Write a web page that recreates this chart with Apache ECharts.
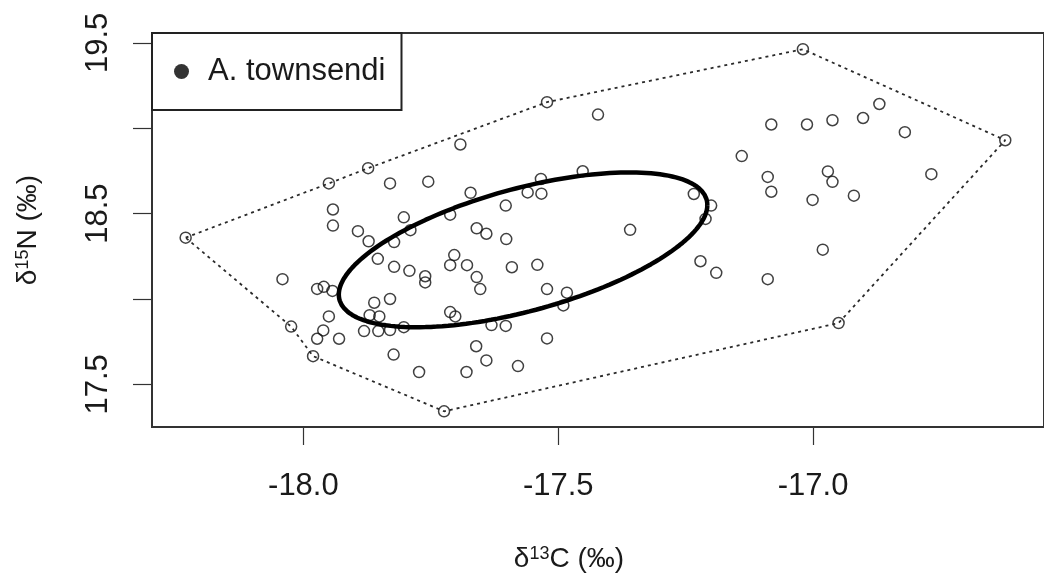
<!DOCTYPE html>
<html>
<head>
<meta charset="utf-8">
<script src="https://cdn.jsdelivr.net/npm/echarts@6/dist/echarts.min.js"></script>
<style>
html,body{margin:0;padding:0;background:#fff;}
#chart{width:1044px;height:578px;}
</style>
</head>
<body>
<div id="chart"></div>
<script>
// ---- data ----
const seriesName = 'A. townsendi';
const d13C = [
-18.231,-17.950,-17.873,-17.830,-17.755,-17.942,-17.942,-17.893,-17.872,-17.803,
-17.790,-17.822,-17.854,-17.822,-17.792,-17.761,-17.761,-17.712,-17.704,-17.712,
-18.041,-17.973,-17.960,-17.943,-17.861,-17.830,-17.870,-17.851,-17.950,-17.961,
-17.973,-17.930,-18.024,-17.981,-17.881,-17.853,-17.830,-17.803,-17.823,-17.773,
-17.724,-17.712,-17.522,-17.422,-17.692,-17.672,-17.603,-17.560,-17.534,-17.533,
-17.452,-17.660,-17.641,-17.602,-17.359,-17.234,-17.200,-17.211,-17.679,-17.660,
-17.653,-17.591,-17.541,-17.522,-17.483,-17.490,-17.702,-17.631,-17.603,-17.522,
-17.661,-17.641,-17.680,-17.579,-17.221,-17.190,-17.020,-16.870,-16.902,-16.962,
-17.012,-17.082,-16.820,-16.623,-17.140,-17.089,-17.082,-16.971,-16.962,-17.001,
-16.920,-16.768,-16.981,-17.089,-16.950
];
const d15N = [
18.359,18.677,18.766,18.677,18.687,18.524,18.430,18.397,18.338,18.478,
18.403,18.333,18.235,18.188,18.165,18.133,18.097,18.494,18.257,18.198,
18.116,18.059,18.071,18.047,17.978,18.000,17.905,17.898,17.898,17.816,
17.767,17.767,17.838,17.665,17.812,17.812,17.818,17.835,17.674,17.572,
17.342,17.923,19.153,19.080,18.905,18.622,18.547,18.624,18.703,18.617,
18.748,18.414,18.382,18.351,18.405,18.615,18.547,18.469,18.198,18.128,
18.058,18.186,18.200,18.058,18.037,17.962,17.898,17.847,17.842,17.769,
17.723,17.640,17.572,17.607,18.221,18.153,19.463,19.142,19.060,19.047,
19.022,19.022,18.977,18.930,18.837,18.715,18.628,18.747,18.686,18.580,
18.605,18.731,18.289,18.116,17.859
];
// convex hull vertices (indices into the arrays above), in drawing order
const hullOrder = [0,1,2,42,76,83,94,40,33,32,0];
// standard ellipse: centre, half-ranges (x, y), phase lag (degrees)
const ellipseCenter = [-17.569, 18.288];
const ellipseRadii = [0.3615, 0.4535];
const ellipsePhase = 54.7;
// axes
const xTicks = [-18, -17.5, -17];
const xTickLabels = ['-18.0', '-17.5', '-17.0'];
const yTicks = [17.5, 18, 18.5, 19, 19.5];
const yLabelTicks = [17.5, 18.5, 19.5];
const yTickLabels = ['17.5', '18.5', '19.5'];
const xRange = [-18.297, -16.547];
const yRange = [17.25, 19.558];

// ---- build ----
const points = d13C.map((x, i) => [x, d15N[i]]);
const hull = hullOrder.map(i => [d13C[i], d15N[i]]);
const ell = [];
const ph = ellipsePhase * Math.PI / 180;
for (let k = 0; k <= 180; k++) {
  const t = 2 * Math.PI * k / 180;
  ell.push([ellipseCenter[0] + ellipseRadii[0] * Math.cos(t),
            ellipseCenter[1] + ellipseRadii[1] * Math.cos(t - ph)]);
}

const font = '"Liberation Sans", Arial, sans-serif';
const chart = echarts.init(document.getElementById('chart'), null, {renderer: 'canvas'});
chart.setOption({
  animation: false,
  backgroundColor: '#fff',
  grid: {left: 152, top: 33, right: -16, bottom: 148, show: true,
         borderColor: '#333', borderWidth: 2, backgroundColor: 'transparent'},
  legend: {
    show: true, left: 152, top: 33, orient: 'vertical',
    data: [{name: seriesName, icon: 'circle', itemStyle: {color: '#000', borderWidth: 0}}],
    itemWidth: 15, itemHeight: 15,
    padding: [23, 16, 23, 22],
    borderColor: '#222', borderWidth: 2, backgroundColor: '#fff',
    textStyle: {fontSize: 31, fontFamily: font, color: '#1a1a1a', padding: [0, 0, 0, 14]},
    selectedMode: false
  },
  xAxis: {
    type: 'value', min: xRange[0], max: xRange[1],
    axisLine: {show: false},
    splitLine: {show: false},
    axisTick: {show: true, customValues: xTicks, length: 18, lineStyle: {color: '#333', width: 1.2}},
    axisLabel: {show: true, customValues: xTicks, margin: 44, fontSize: 31, fontFamily: font, color: '#1a1a1a',
      formatter: v => { const i = xTicks.findIndex(t => Math.abs(t - v) < 1e-6); return i >= 0 ? xTickLabels[i] : ''; }},
    name: 'δ{s|13}C (‰)', nameLocation: 'middle', nameGap: 118,
    nameTextStyle: {fontSize: 28, fontFamily: font, color: '#1a1a1a', padding: [0, 58, 0, 0],
      rich: {s: {fontSize: 18, fontFamily: font, color: '#1a1a1a', verticalAlign: 'top'}}}
  },
  yAxis: {
    type: 'value', min: yRange[0], max: yRange[1],
    axisLine: {show: false},
    splitLine: {show: false},
    axisTick: {show: true, customValues: yTicks, length: 19, lineStyle: {color: '#333', width: 1.2}},
    axisLabel: {show: true, customValues: yLabelTicks, rotate: 90, margin: 38, fontSize: 31, fontFamily: font, color: '#1a1a1a',
      formatter: v => { const i = yLabelTicks.findIndex(t => Math.abs(t - v) < 1e-6); return i >= 0 ? yTickLabels[i] : ''; }},
    name: 'δ{s|15}N (‰)', nameLocation: 'middle', nameRotate: 90, nameGap: 110,
    nameTextStyle: {fontSize: 28, fontFamily: font, color: '#1a1a1a',
      rich: {s: {fontSize: 18, fontFamily: font, color: '#1a1a1a', verticalAlign: 'top'}}}
  },
  series: [
    {name: seriesName, type: 'scatter', data: points, symbol: 'circle', symbolSize: 11, z: 2,
     itemStyle: {color: 'rgba(0,0,0,0)', borderColor: '#111', borderWidth: 1.5}, silent: true},
    {name: 'hull', type: 'line', data: hull, symbol: 'none', z: 3, silent: true,
     lineStyle: {color: '#2a2a2a', width: 1.8, type: [3, 4]}},
    {name: 'ellipse', type: 'line', data: ell, symbol: 'none', z: 4, silent: true, smooth: false,
     lineStyle: {color: '#000', width: 4.5}}
  ]
});
</script>
</body>
</html>
